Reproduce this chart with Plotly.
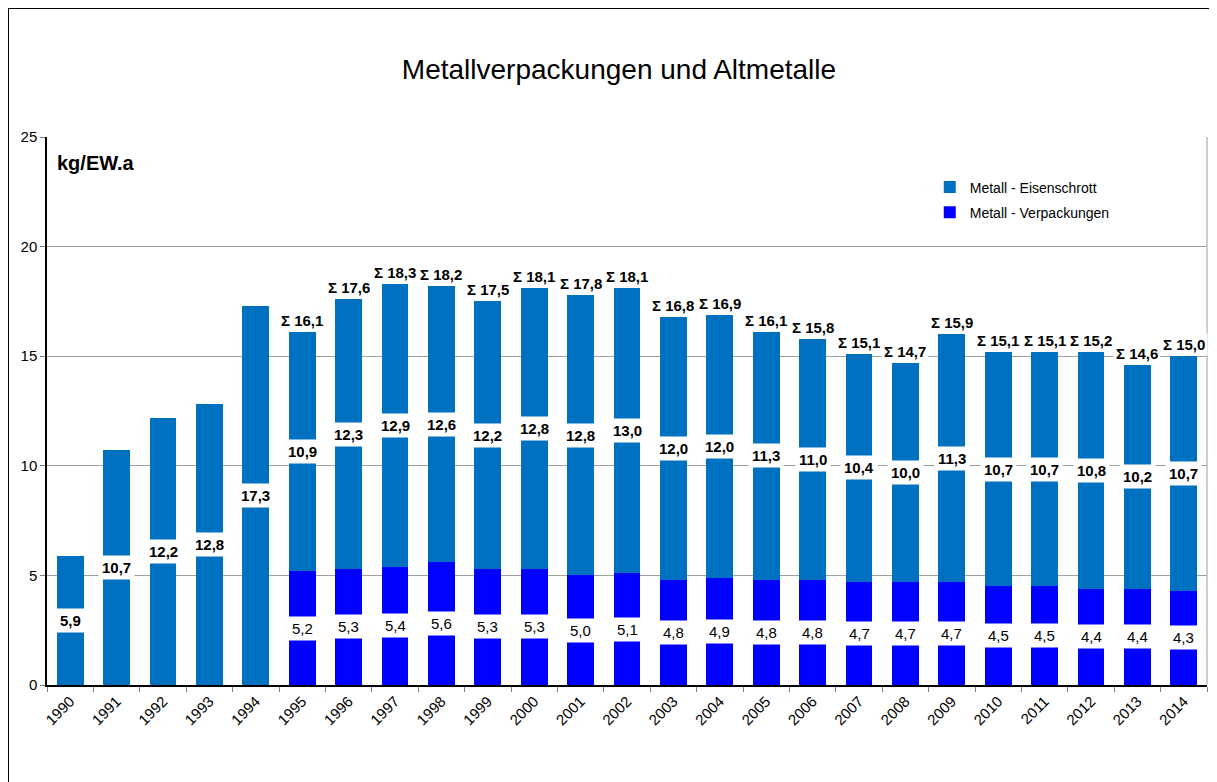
import plotly.graph_objects as go

years = [str(y) for y in range(1990, 2015)]
verpackungen = [0, 0, 0, 0, 0, 5.2, 5.3, 5.4, 5.6, 5.3, 5.3, 5.0, 5.1, 4.8, 4.9,
                4.8, 4.8, 4.7, 4.7, 4.7, 4.5, 4.5, 4.4, 4.4, 4.3]
eisenschrott = [5.9, 10.7, 12.2, 12.8, 17.3, 10.9, 12.3, 12.9, 12.6, 12.2, 12.8, 12.8, 13.0,
                12.0, 12.0, 11.3, 11.0, 10.4, 10.0, 11.3, 10.7, 10.7, 10.8, 10.2, 10.7]
summen = [None, None, None, None, None, 16.1, 17.6, 18.3, 18.2, 17.5, 18.1, 17.8, 18.1,
          16.8, 16.9, 16.1, 15.8, 15.1, 14.7, 15.9, 15.1, 15.1, 15.2, 14.6, 15.0]

C_EISEN = "#0070C0"
C_VERP = "#0000FF"
FONT = "Liberation Sans, Arial, sans-serif"

W, H = 1209, 774
ML, MR, MT, MB = 39, 10, 129, 97
PW, PH = W - ML - MR, H - MT - MB


def fmt(v):
    return f"{v:.1f}".replace(".", ",")


fig = go.Figure()
fig.add_trace(go.Bar(x=years, y=verpackungen, name="Metall - Verpackungen",
                     marker=dict(color=C_VERP, line=dict(width=0)),
                     legendgroup="v", legendrank=2, hoverinfo="x+y"))
fig.add_trace(go.Bar(x=years, y=eisenschrott, name="Metall - Eisenschrott",
                     marker=dict(color=C_EISEN, line=dict(width=0)),
                     legendgroup="e", legendrank=1, hoverinfo="x+y"))

annotations = []
for i, (v, e, s) in enumerate(zip(verpackungen, eisenschrott, summen)):
    if v > 0:
        annotations.append(dict(x=i, y=v / 2, text=fmt(v), showarrow=False,
                                font=dict(size=15, color="black", family=FONT),
                                bgcolor="white", borderpad=3, yanchor="middle"))
    annotations.append(dict(x=i, y=v + e / 2, text="<b>" + fmt(e) + "</b>", showarrow=False,
                            font=dict(size=15, color="black", family=FONT),
                            bgcolor="white", borderpad=3, yanchor="middle"))
    if s is not None:
        annotations.append(dict(x=i, y=v + e, text="<b>Σ " + fmt(s) + "</b>", showarrow=False,
                                font=dict(size=15, color="black", family=FONT),
                                bgcolor="white", borderpad=2, yanchor="bottom"))

annotations.append(dict(xref="paper", yref="paper", x=8 / PW, y=(PH - 26) / PH, xanchor="left",
                        yanchor="middle", text="<b>kg/EW.a</b>", showarrow=False,
                        font=dict(size=20, color="black", family=FONT)))

shapes = [
    # outer chart border
    dict(type="rect", xref="paper", yref="paper",
         x0=(0 - ML) / PW, x1=(W + 40 - ML) / PW,
         y0=-(MB + 40) / PH, y1=(PH + MT) / PH,
         line=dict(color="black", width=2), fillcolor="rgba(0,0,0,0)", layer="below"),
    # right plot-area border
    dict(type="line", xref="paper", yref="paper", x0=1, x1=1, y0=0, y1=1,
         line=dict(color="#A0A0A0", width=1), layer="below"),
]

fig.update_layout(
    width=W, height=H,
    barmode="stack", bargap=0.42,
    paper_bgcolor="white", plot_bgcolor="white",
    margin=dict(l=ML, r=MR, t=MT, b=MB),
    font=dict(family=FONT, color="black", size=15),
    title=dict(text="Metallverpackungen und Altmetalle", x=611 / W, xanchor="center",
               y=1 - 61 / H, yanchor="middle", font=dict(size=28, family=FONT, color="black")),
    legend=dict(x=0.761, y=0.937, xanchor="left", yanchor="top", traceorder="grouped",
                tracegroupgap=4, font=dict(size=14, family=FONT, color="black"),
                bgcolor="rgba(0,0,0,0)"),
    annotations=annotations,
    shapes=shapes,
    xaxis=dict(type="category", range=[-0.5, len(years) - 0.5], tickangle=-45,
               showline=True, linecolor="black", linewidth=1.5,
               ticks="outside", tickson="boundaries", ticklen=5, tickcolor="#808080",
               tickfont=dict(size=15, family=FONT, color="black"), showgrid=False),
    yaxis=dict(range=[0, 25], dtick=5, showline=True, linecolor="black", linewidth=1.5,
               ticks="outside", ticklen=5, tickcolor="#808080", showgrid=True,
               gridcolor="#A0A0A0", gridwidth=1, zeroline=False,
               tickfont=dict(size=15, family=FONT, color="black")),
)

fig.write_html("out.html")
